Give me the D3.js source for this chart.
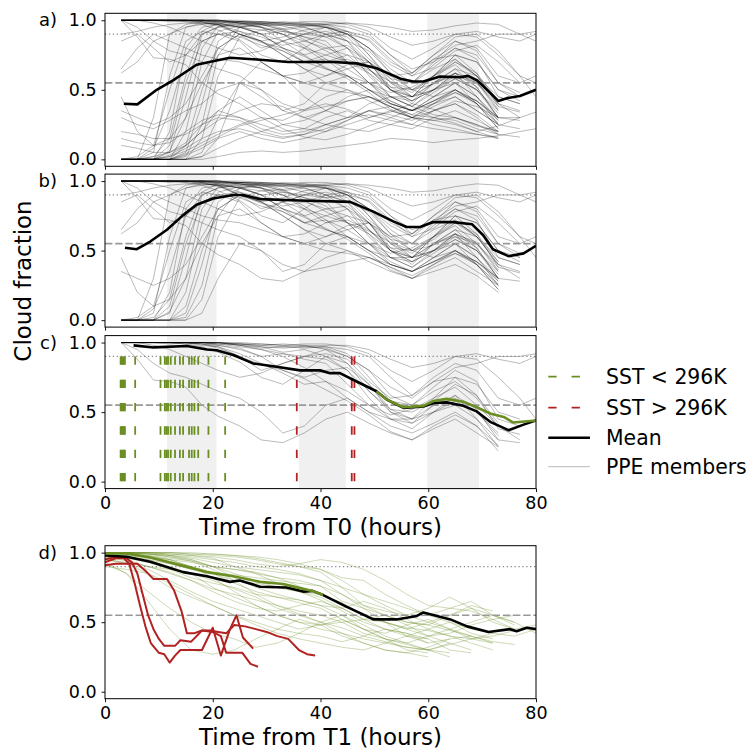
<!DOCTYPE html>
<html>
<head>
<meta charset="utf-8">
<script src="https://d3js.org/d3.v7.min.js" charset="utf-8"></script>
<title>Cloud fraction PPE</title>
<style>
  body { margin: 0; background: #fff; }
  svg text { font-family: "DejaVu Sans", sans-serif; fill: #000; }
</style>
</head>
<body>
<script>
// ---------- data ----------
// member time grid, hours from T0 (panels a-c)
var timesT0 = [3,6,9,12,15,18,21,25,29,33,37,41,45,49,53,57,61,65,69,73,77,80];

// members that start overcast: shown in a, b and c
var cloudyMembers = [
  [1,1,1,1,1,1,.99,.99,.98,.97,.96,.97,.95,.9,.75,.62,.75,.85,.8,.6,.55,.6],
  [1,1,1,1,1,1,1,.99,.97,.93,.95,.9,.8,.65,.5,.42,.55,.62,.45,.3,.28,null],
  [1,1,1,.99,1,.99,.98,.95,.9,.92,.88,.85,.7,.55,.45,.38,.5,.58,.5,.35,null,null],
  [1,1,1,1,1,.98,.97,.9,.8,.85,.9,.95,.9,.8,.62,.55,.65,.72,.6,.4,.3,null],
  [1,1,1,1,.99,.97,.93,.86,.75,.7,.8,.9,.85,.7,.5,.45,.6,.75,.7,.5,.45,null],
  [1,.88,.73,.72,.68,.55,.47,.4,.3,.28,.35,.45,.5,.42,.35,.3,.38,.45,.35,.25,null,null],
  [1,.95,.85,.78,.75,.7,.65,.6,.5,.35,.4,.55,.6,.5,.4,.35,.42,.5,.4,.22,null,null],
  [1,1,1,1,1,1,1,1,.99,.98,.97,.96,.9,.8,.68,.6,.72,.82,.85,.9,.9,.92],
  [1,1,1,1,1,1,.99,.97,.95,.9,.82,.72,.6,.5,.45,.45,.55,.6,.5,.33,null,null],
  [1,1,1,1,1,1,1,.98,.96,.97,.98,.97,.92,.75,.58,.55,.68,.8,.72,.45,.4,null],
  [1,1,1,1,1,.99,.97,.92,.85,.78,.7,.72,.65,.55,.48,.52,.6,.68,.55,.4,null,null],
  [1,1,1,1,1,1,.99,.99,.98,.99,.98,.95,.85,.65,.52,.5,.58,.7,.62,.42,null,null],
  [1,1,.98,.95,.9,.85,.8,.75,.78,.85,.9,.88,.8,.6,.45,.42,.5,.62,.52,.3,null,null],
  [1,1,1,1,1,1,1,.99,.99,.98,.99,.99,.97,.92,.8,.72,.8,.9,.92,.88,.85,.9],
  [1,1,1,1,1,1,.98,.96,.9,.8,.75,.8,.82,.7,.52,.45,.5,.55,.45,.25,null,null],
  [1,1,1,1,.99,1,1,.98,.95,.92,.9,.92,.88,.72,.6,.62,.72,.75,.62,.38,.34,null],
  [1,1,1,1,1,1,1,.98,.97,.96,.97,.98,.98,.95,.88,.82,.85,.9,.88,.75,.6,.45],
  [1,1,1,1,1,.99,.96,.9,.84,.8,.74,.66,.58,.48,.36,.3,.4,.48,.4,.26,null,null]
];

// members that start clear and become cloudy: a and b
var risingMembers = [
  [0,0,.3,.9,.97,.99,.99,.98,.95,.9,.85,.8,.75,.7,.55,.45,.6,.7,.6,.4,.35,null],
  [0,0,.05,.6,.95,.98,.97,.9,.85,.88,.93,.95,.9,.8,.65,.55,.7,.85,.78,.55,.45,null],
  [0,0,0,.2,.8,.95,.97,.95,.9,.8,.7,.75,.8,.7,.5,.4,.55,.65,.52,.3,null,null],
  [0,0,0,.05,.45,.9,.95,.97,.98,.97,.95,.9,.85,.78,.62,.5,.6,.75,.7,.5,.42,null],
  [0,0,0,0,.2,.7,.92,.96,.95,.85,.75,.65,.6,.55,.42,.35,.45,.55,.45,.28,null,null],
  [0,0,0,0,.05,.4,.85,.95,.97,.98,.97,.95,.92,.85,.7,.62,.75,.88,.9,.78,.6,.55],
  [0,0,0,0,0,.15,.6,.88,.93,.9,.8,.7,.72,.65,.5,.42,.5,.62,.55,.38,null,null],
  [0,.02,.1,.5,.85,.92,.9,.85,.7,.6,.62,.7,.75,.62,.45,.38,.48,.58,.5,.3,null,null],
  [0,0,.08,.35,.75,.9,.95,.98,.97,.93,.88,.82,.7,.55,.4,.35,.45,.55,.4,.22,null,null],
  [0,0,0,.1,.55,.85,.9,.92,.88,.82,.85,.9,.92,.88,.75,.65,.7,.8,.75,.55,.48,null],
  [0,0,0,0,.1,.5,.8,.9,.85,.75,.65,.6,.65,.7,.58,.45,.5,.6,.55,.35,null,null],
  [0,0,0,0,0,.05,.3,.55,.5,.4,.35,.38,.42,.45,.4,.35,.42,.5,.4,.25,null,null],
  [0,0,.02,.15,.6,.92,.98,.99,.99,.98,.96,.95,.9,.75,.55,.48,.6,.72,.6,.42,null,null],
  [0,0,0,0,.02,.25,.75,.95,.98,.96,.92,.88,.9,.86,.72,.6,.66,.78,.82,.7,.55,null],
  [0,0,0,.06,.3,.8,.96,.99,.98,.94,.86,.78,.7,.64,.56,.5,.54,.62,.56,.36,null,null]
];

// members starting part-cloudy that end up cloudy: a and b
var midMembers = [
  [.62,.7,.85,.9,.95,.97,.98,.95,.9,.85,.8,.75,.7,.62,.5,.45,.55,.65,.6,.45,.4,null],
  [.65,.8,.9,.85,.8,.75,.72,.7,.65,.6,.55,.6,.68,.7,.6,.5,.45,.5,.42,.3,null,null],
  [.85,.9,.8,.7,.75,.85,.9,.88,.82,.78,.7,.65,.6,.5,.4,.35,.42,.48,.42,.28,null,null],
  [.35,.3,.25,.3,.4,.6,.8,.9,.85,.75,.65,.55,.5,.45,.38,.3,.35,.4,.32,.2,null,null],
  [.45,.2,.1,.15,.3,.55,.75,.8,.7,.6,.55,.5,.48,.45,.38,.32,.4,.5,.42,.3,null,null],
  [.9,.92,.95,.97,.98,.98,.97,.95,.93,.94,.96,.97,.98,.97,.95,.92,.93,.96,.98,.97,.9,.85]
];

// members that stay mostly clear: panel a only
var lowMembers = [
  [0,0,0,.02,.08,.15,.2,.22,.18,.15,.18,.25,.3,.35,.38,.32,.3,.28,.22,.18,.16,null],
  [0,0,0,0,.03,.08,.15,.2,.15,.12,.15,.2,.25,.3,.35,.3,.25,.22,.18,.15,null,null],
  [0,0,.02,.05,.12,.25,.35,.3,.25,.2,.22,.3,.35,.28,.25,.22,.3,.35,.28,.2,null,null],
  [0,0,0,0,0,0,.02,.05,.06,.05,.06,.08,.1,.12,.15,.14,.12,.14,.15,.17,.2,.22],
  [.15,.12,.1,.12,.2,.28,.32,.3,.22,.18,.2,.25,.3,.4,.45,.38,.32,.3,.25,.2,null,null],
  [.1,.08,.05,.05,.1,.2,.35,.45,.35,.25,.28,.35,.45,.5,.42,.35,.4,.45,.35,.25,.22,null],
  [0,0,0,.03,.1,.2,.28,.35,.4,.38,.3,.25,.22,.2,.25,.3,.28,.25,.2,.15,null,null],
  [.2,.18,.15,.15,.18,.25,.3,.28,.2,.16,.18,.22,.28,.35,.3,.25,.22,.2,.18,.16,null,null],
  [0,0,0,0,0,.02,.08,.15,.2,.25,.22,.2,.28,.35,.32,.28,.35,.42,.38,.3,.3,null],
  [0,0,0,0,0,.02,.15,.55,.7,.6,.45,.35,.3,.32,.28,.25,.35,.4,.3,.18,null,null],
  [.3,.25,.22,.28,.35,.4,.5,.55,.45,.35,.3,.35,.42,.45,.38,.3,.28,.3,.25,.18,null,null],
  [0,0,0,.02,.06,.12,.18,.25,.3,.22,.16,.14,.18,.24,.3,.36,.3,.26,.2,.24,.3,.34],
  [0,0,0,0,.04,.1,.16,.24,.28,.32,.36,.4,.36,.3,.34,.4,.36,.3,.24,.2,null,null]
];

// ensemble means, panels a-c
var meanATimes = [3.5,6,9.6,12.7,17,20.7,23.2,27.5,34,42.4,46.7,50.4,54.8,57.2,59.1,62.2,65.9,67.4,69,70.9,73,74.6,77,80];
var meanAValues = [.40,.395,.50,.57,.68,.71,.73,.72,.70,.70,.69,.655,.58,.56,.56,.595,.59,.60,.57,.50,.42,.44,.455,.50];
var meanBTimes = [3.7,5.9,8.4,11.5,14.5,17,20.1,23.8,25.6,28.8,36,45.5,49.8,53.5,56,58.5,60.9,64.7,68.1,70.2,72,74.9,77.7,80];
var meanBValues = [.52,.51,.565,.65,.755,.83,.875,.90,.90,.87,.86,.85,.78,.71,.67,.67,.705,.705,.69,.61,.51,.46,.48,.535];
var meanCTimes = [5.3,9,15.2,18.9,20.7,23.8,27.5,31.2,36.2,39.9,41.8,43.6,46.7,50.4,52.3,55.4,59.1,61,63.4,66.5,69,71.5,74.9,77.7,80];
var meanCValues = [.98,.965,.975,.95,.945,.91,.85,.83,.80,.80,.78,.78,.72,.65,.59,.53,.54,.565,.57,.545,.505,.43,.37,.41,.44];
var coldMeanCTimes = [50.4,52.3,55.4,59.1,61,63.4,66.5,69,71.5,74,75.8,80];
var coldMeanCValues = [.65,.59,.535,.545,.58,.595,.575,.535,.49,.465,.425,.44];

// hours of the T1 events in panel c
var sstColdEvents = [2.9,3.1,3.3,3.5,3.7,5.6,10.3,11.1,11.4,11.7,12.2,13.0,13.9,14.5,15.6,16.1,16.6,17.3,19.2,22.3];
var sstWarmEvents = [35.6,45.8,46.3];

// night-time bands (hours from T0)
var nightBands = [[11.5,20.7],[36,44.7],[59.8,69.4]];

// panel d, hours from T1
var timesT1 = [0,4,8,12,16,20,24,28,32,36,40,44,48,52,56,60,64,68,72,76,80];
var coldMembers = [
  [1,1,.99,.98,.97,.95,.93,.9,.88,.85,.8,.75,.7,.62,.55,.5,.45,.5,.55,.5,null],
  [1,1,1,.99,.98,.96,.9,.85,.78,.72,.66,.58,.5,.45,.4,.45,.5,.42,.38,null,null],
  [.98,.97,.95,.9,.85,.75,.68,.62,.55,.5,.45,.42,.38,.35,.32,.3,.35,null,null,null,null],
  [1,1,1,1,.99,.99,.98,.97,.95,.92,.88,.82,.8,.7,.62,.55,.6,.65,.55,.48,null],
  [.95,.92,.88,.8,.72,.65,.6,.55,.5,.45,.48,.52,.45,.38,.3,.28,null,null,null,null,null],
  [1,.99,.97,.95,.9,.85,.78,.72,.68,.64,.6,.52,.45,.38,.35,.4,.45,.4,.35,null,null],
  [.93,.85,.65,.45,.3,.27,.3,.38,.45,.52,.48,.4,.35,.3,.28,.32,.38,null,null,null,null],
  [1,1,1,1,1,.99,.98,.96,.93,.9,.86,.75,.62,.58,.55,.6,.68,.6,.5,.45,null],
  [.97,.95,.9,.85,.8,.72,.65,.6,.58,.62,.65,.6,.52,.45,.42,.38,.3,.28,null,null,null],
  [1,1,.99,.97,.95,.9,.88,.85,.82,.8,.76,.65,.6,.55,.5,.48,.55,.62,.58,null,null],
  [.92,.85,.72,.6,.5,.42,.38,.32,.35,.42,.5,.55,.48,.4,.35,.3,.25,null,null,null,null],
  [1,1,1,.99,.98,.97,.95,.92,.9,.92,.95,.93,.88,.8,.7,.62,.6,.58,.52,.45,.48],
  [.98,.96,.93,.88,.82,.78,.75,.7,.68,.66,.62,.55,.45,.42,.48,.52,.45,.38,.35,null,null],
  [1,.99,.98,.95,.9,.82,.72,.62,.55,.5,.48,.5,.52,.55,.48,.4,.35,.3,null,null,null],
  [.95,.93,.9,.88,.85,.8,.74,.68,.6,.55,.5,.42,.35,.3,.28,.25,null,null,null,null,null],
  [1,1,1,1,.99,.98,.97,.95,.92,.9,.88,.8,.7,.65,.6,.55,.5,.45,.42,.4,.45],
  [.96,.92,.85,.75,.68,.62,.55,.5,.45,.42,.4,.36,.4,.45,.42,.35,null,null,null,null,null],
  [1,.99,.98,.96,.94,.9,.85,.8,.75,.72,.68,.6,.52,.5,.45,.4,.42,.48,.52,.55,null],
  [.9,.88,.85,.78,.7,.62,.55,.48,.42,.38,.35,.32,.3,.35,.4,.38,null,null,null,null,null],
  [1,1,.99,.98,.96,.93,.9,.88,.86,.84,.8,.7,.6,.5,.45,.5,.55,.6,.55,.5,.42],
  [.98,.97,.95,.92,.88,.85,.8,.78,.75,.72,.7,.64,.55,.5,.4,.35,.38,.4,null,null,null],
  [1,1,1,.98,.95,.9,.82,.75,.7,.66,.62,.6,.65,.6,.52,.45,.4,.35,.3,null,null],
  [.99,.98,.96,.94,.9,.86,.84,.82,.8,.78,.76,.7,.62,.55,.5,.48,.44,.4,.36,.34,null],
  [.97,.94,.9,.86,.8,.74,.7,.66,.62,.58,.55,.5,.42,.38,.34,.3,.28,null,null,null,null],
  [1,1,.99,.97,.94,.88,.8,.7,.62,.56,.5,.46,.4,.36,.32,.3,.34,.38,.42,null,null],
  [.99,.98,.97,.95,.93,.9,.88,.86,.82,.76,.7,.62,.56,.5,.46,.44,.4,.38,.4,.44,null]
];
var warmTimes = [
  [0,2,4,6,7.5,9,11.5,12.8,14.2,15.2,16.5,18,19.5,21,22.5,24,26,28,30,32,34,36,37.5,39],
  [0,2,3.5,4.5,5.5,6.5,7.5,8.5,10,11,12,13,14,16,18,20,21.5,23.2,24.4,25.6,27.5],
  [0,2,4,5,6,7,8,9,10,11,12,13,14,16,18,20,21.5,22.5,24,25.5,27,28.4]
];
var warmValues = [
  [.91,.92,.92,.92,.87,.81,.81,.73,.58,.42,.42,.44,.44,.43,.42,.48,.47,.45,.43,.40,.38,.30,.27,.26],
  [.93,.96,.96,.92,.78,.62,.47,.35,.28,.27,.21,.26,.30,.30,.30,.46,.26,.45,.55,.39,.31],
  [.95,.97,.96,.93,.85,.70,.55,.45,.38,.33,.33,.33,.37,.36,.44,.43,.40,.28,.28,.28,.20,.18]
];
var meanDTimes = [0,4,8.4,14.5,18.9,23.2,25,28.8,33.7,36.8,38.5,40.5,44.9,49.8,54.1,57.9,59.1,64.1,67.2,71.2,75.2,76.4,78.3,80];
var meanDValues = [.98,.97,.935,.86,.83,.79,.80,.755,.75,.72,.725,.695,.61,.52,.52,.545,.57,.52,.47,.43,.45,.435,.46,.45];
var coldMeanDTimes = [0,4,8.4,14.5,18.9,23.8,28.8,33.1,36.2,38.5,40.5];
var coldMeanDValues = [.995,.995,.965,.905,.86,.83,.79,.775,.745,.725,.695];

var lowThreshold = 0.55, highThreshold = 0.9;

// ---------- drawing ----------
var width = 748, height = 751;
var green = "#6b8e23", red = "#b22222";
var panelTop = [13.3, 174.1, 335.6, 545.7], panelH = 153;
var left = 105, right = 536;
var memberOpacity = 0.27;

var svg = d3.select("body").append("svg")
    .attr("width", width)
    .attr("height", height);

var x = d3.scaleLinear().domain([0, 80]).range([left, right]);

function zip(ts, vs) {
  return vs.map(function(v, i) { return [ts[i], v]; });
}

function makePanel(i) {
  var top = panelTop[i];
  var y = d3.scaleLinear().domain([-0.05, 1.05]).range([top + panelH, top]);
  svg.append("clipPath").attr("id", "clip" + i)
    .append("rect").attr("x", left).attr("y", top)
    .attr("width", right - left).attr("height", panelH);
  var g = svg.append("g");
  var plot = g.append("g").attr("clip-path", "url(#clip" + i + ")");
  var line = d3.line()
      .defined(function(d) { return d[1] != null; })
      .x(function(d) { return x(d[0]); })
      .y(function(d) { return y(d[1]); });
  return { y: y, g: g, plot: plot, line: line, top: top };
}

function shade(p) {
  p.plot.selectAll(".night").data(nightBands).enter().append("rect")
    .attr("x", function(d) { return x(d[0]); })
    .attr("width", function(d) { return x(d[1]) - x(d[0]); })
    .attr("y", p.top).attr("height", panelH)
    .attr("fill", "#f0f0f0");
}

function members(p, sets, ts, color, opacity) {
  sets.forEach(function(set) {
    p.plot.append("g").selectAll("path").data(set).enter().append("path")
      .attr("d", function(d) { return p.line(zip(ts, d)); })
      .attr("fill", "none")
      .attr("stroke", color)
      .attr("stroke-opacity", opacity)
      .attr("stroke-width", 1);
  });
}

function thresholds(p) {
  p.plot.append("line")
    .attr("x1", left).attr("x2", right)
    .attr("y1", p.y(highThreshold)).attr("y2", p.y(highThreshold))
    .attr("stroke", "#888").attr("stroke-width", 1.3)
    .attr("stroke-dasharray", "1.3,2.6");
  p.plot.append("line")
    .attr("x1", left).attr("x2", right)
    .attr("y1", p.y(lowThreshold)).attr("y2", p.y(lowThreshold))
    .attr("stroke", "#999").attr("stroke-width", 1.6)
    .attr("stroke-dasharray", "7.4,2.8");
}

function meanLine(p, ts, vs, color) {
  p.plot.append("path")
    .attr("d", p.line(zip(ts, vs)))
    .attr("fill", "none")
    .attr("stroke", color)
    .attr("stroke-width", 2.6)
    .attr("stroke-linejoin", "round");
}

function axes(p, label, showX, xTitle) {
  var yAxis = d3.axisLeft(p.y).tickValues([0, 0.5, 1])
      .tickFormat(d3.format(".1f")).tickSize(3.5).tickPadding(4.8);
  var ya = p.g.append("g").attr("transform", "translate(" + left + ",0)").call(yAxis);
  var xAxis = d3.axisBottom(x).tickValues([0, 20, 40, 60, 80])
      .tickSize(3.5).tickPadding(4.4);
  if (!showX) xAxis.tickFormat("");
  var xa = p.g.append("g").attr("transform", "translate(0," + (p.top + panelH) + ")").call(xAxis);
  [ya, xa].forEach(function(a) {
    a.attr("font-size", null).attr("font-family", null);
    a.select(".domain").remove();
    a.selectAll("text").style("font-size", "17.5px");
    a.selectAll("line").attr("stroke", "#000").attr("stroke-width", 0.9);
  });
  p.g.append("rect")
    .attr("x", left).attr("y", p.top)
    .attr("width", right - left).attr("height", panelH)
    .attr("fill", "none").attr("stroke", "#000").attr("stroke-width", 1);
  p.g.append("text")
    .attr("x", 57).attr("y", p.y(1) + 6)
    .attr("text-anchor", "end")
    .style("font-size", "18px")
    .text(label);
  if (xTitle) {
    p.g.append("text")
      .attr("x", (left + right) / 2).attr("y", p.top + panelH + 46.5)
      .attr("text-anchor", "middle")
      .style("font-size", "23px")
      .text(xTitle);
  }
}

// panel a
var pa = makePanel(0);
shade(pa);
members(pa, [lowMembers, midMembers, risingMembers, cloudyMembers], timesT0, "#000", memberOpacity);
thresholds(pa);
meanLine(pa, meanATimes, meanAValues, "#000");
axes(pa, "a)", false);

// panel b
var pb = makePanel(1);
shade(pb);
members(pb, [midMembers, risingMembers, cloudyMembers], timesT0, "#000", memberOpacity);
thresholds(pb);
meanLine(pb, meanBTimes, meanBValues, "#000");
axes(pb, "b)", false);

// panel c
var pc = makePanel(2);
shade(pc);
members(pc, [cloudyMembers], timesT0, "#000", memberOpacity);
thresholds(pc);
function events(p, list, color) {
  p.plot.append("g").selectAll("line").data(list).enter().append("line")
    .attr("x1", function(d) { return x(d); })
    .attr("x2", function(d) { return x(d); })
    .attr("y1", p.y(highThreshold)).attr("y2", p.y(0))
    .attr("stroke", color).attr("stroke-width", 1.8)
    .attr("stroke-dasharray", "8.3,15");
}
events(pc, sstColdEvents, green);
events(pc, sstWarmEvents, red);
meanLine(pc, meanCTimes, meanCValues, "#000");
meanLine(pc, coldMeanCTimes, coldMeanCValues, green);
axes(pc, "c)", true, "Time from T0 (hours)");

// panel d
var pd = makePanel(3);
members(pd, [coldMembers], timesT1, green, 0.33);
thresholds(pd);
pd.plot.append("g").selectAll("path").data(warmValues).enter().append("path")
  .attr("d", function(d, i) { return pd.line(zip(warmTimes[i], d)); })
  .attr("fill", "none")
  .attr("stroke", red)
  .attr("stroke-width", 2)
  .attr("stroke-linejoin", "round");
meanLine(pd, meanDTimes, meanDValues, "#000");
meanLine(pd, coldMeanDTimes, coldMeanDValues, green);
axes(pd, "d)", true, "Time from T1 (hours)");

// shared y label
svg.append("text")
  .attr("transform", "translate(30.5,281) rotate(-90)")
  .attr("text-anchor", "middle")
  .style("font-size", "23px")
  .text("Cloud fraction");

// legend
var legendItems = [
  { label: "SST < 296K", color: green, dash: "8.3,15", w: 1.8, op: 1 },
  { label: "SST > 296K", color: red, dash: "8.3,15", w: 1.8, op: 1 },
  { label: "Mean", color: "#000", dash: null, w: 2.6, op: 1 },
  { label: "PPE members", color: "#000", dash: null, w: 1, op: memberOpacity }
];
var legendY = [376.7, 407.7, 437.7, 466.7];
var legend = svg.append("g");
legend.selectAll("line").data(legendItems).enter().append("line")
  .attr("x1", 548.3).attr("x2", 590)
  .attr("y1", function(d, i) { return legendY[i]; })
  .attr("y2", function(d, i) { return legendY[i]; })
  .attr("stroke", function(d) { return d.color; })
  .attr("stroke-width", function(d) { return d.w; })
  .attr("stroke-opacity", function(d) { return d.op; })
  .attr("stroke-dasharray", function(d) { return d.dash; });
legend.selectAll("text").data(legendItems).enter().append("text")
  .attr("x", 606)
  .attr("y", function(d, i) { return legendY[i] + 7.3; })
  .style("font-size", "20.4px")
  .text(function(d) { return d.label; });
</script>
</body>
</html>
